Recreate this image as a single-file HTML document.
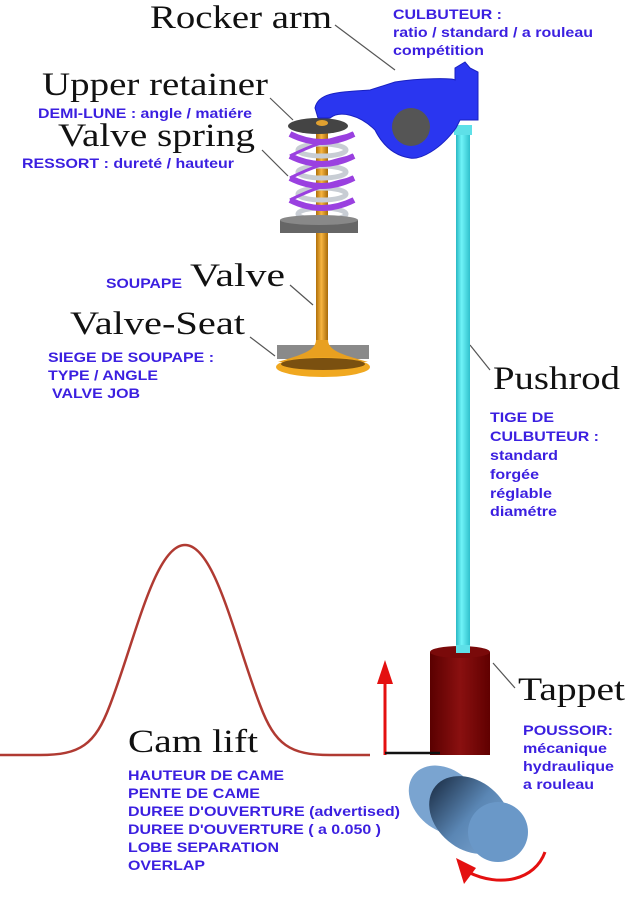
<!DOCTYPE html>
<html><head><meta charset="utf-8"><style>
html,body{margin:0;padding:0;background:#fff;}
svg{display:block}
.s{font-family:"Liberation Serif",serif;fill:#111;font-size:33px;}
.b{font-family:"Liberation Sans",sans-serif;font-weight:bold;font-size:14px;fill:#3b1fe0;}
</style></head><body>
<svg width="626" height="900" viewBox="0 0 626 900" xmlns="http://www.w3.org/2000/svg">
<defs>
<linearGradient id="cy" x1="0" x2="1"><stop offset="0" stop-color="#2ab8c4"/><stop offset=".4" stop-color="#6ff4f8"/><stop offset="1" stop-color="#30c0cc"/></linearGradient>
<linearGradient id="or" x1="0" x2="1"><stop offset="0" stop-color="#b0700a"/><stop offset=".45" stop-color="#f7b540"/><stop offset="1" stop-color="#a86a08"/></linearGradient>
<linearGradient id="tr" x1="0" x2="1"><stop offset="0" stop-color="#5a0000"/><stop offset=".5" stop-color="#8a1010"/><stop offset="1" stop-color="#600000"/></linearGradient>
<linearGradient id="cm" x1="0" x2="1"><stop offset="0" stop-color="#243a55"/><stop offset=".5" stop-color="#5a86b4"/><stop offset="1" stop-color="#7aa4d0"/></linearGradient>
</defs>

<path d="M0,755 L40,755 C80,755 95,745 110,705 C135,640 155,545 185,545 C215,545 235,640 260,705 C275,745 290,755 330,755 L370,755" fill="none" stroke="#b03a32" stroke-width="2.5"/>

<g stroke="#555" stroke-width="1.2" fill="none">
<line x1="335" y1="25" x2="395" y2="70"/>
<line x1="270" y1="98" x2="293" y2="120"/>
<line x1="262" y1="150" x2="288" y2="176"/>
<line x1="290" y1="285" x2="313" y2="305"/>
<line x1="250" y1="337" x2="275" y2="356"/>
<line x1="470" y1="345" x2="490" y2="370"/>
<line x1="493" y1="663" x2="515" y2="688"/>
</g>

<rect x="456" y="125" width="14" height="532" fill="url(#cy)"/>
<rect x="454" y="125" width="18" height="10" fill="#5ee0e8"/>

<rect x="316" y="120" width="12" height="230" fill="url(#or)"/>
<rect x="277" y="345" width="92" height="14" fill="#8a8a8a"/>
<path d="M316,340 C316,352 296,356 278,362 L368,362 C348,356 328,352 328,340Z" fill="#e8a020"/>
<ellipse cx="323" cy="367" rx="47" ry="10" fill="#f0a820"/>
<ellipse cx="323" cy="364" rx="42" ry="6" fill="#7a5010"/>

<!-- springs -->
<g fill="none">
<g stroke="#c8cdd4" stroke-width="5">
<ellipse cx="322" cy="150" rx="24" ry="6"/><ellipse cx="322" cy="172" rx="24" ry="6"/><ellipse cx="322" cy="194" rx="24" ry="6"/><ellipse cx="322" cy="214" rx="24" ry="6"/>
</g>
<g stroke="#9a40e0" stroke-width="6">
<path d="M290,134 Q322,150 354,134"/><path d="M290,156 Q322,172 354,156"/><path d="M290,178 Q322,194 354,178"/><path d="M290,200 Q322,216 354,200"/>
<path d="M354,134 Q322,140 290,156" stroke-width="3"/><path d="M354,156 Q322,162 290,178" stroke-width="3"/><path d="M354,178 Q322,184 290,200" stroke-width="3"/>
</g>
</g>
<ellipse cx="318" cy="126" rx="30" ry="8" fill="#444"/>
<ellipse cx="322" cy="123" rx="6" ry="3" fill="#e0a030"/>
<rect x="280" y="220" width="78" height="13" fill="#666"/>
<ellipse cx="319" cy="220" rx="39" ry="5" fill="#888"/>

<path d="M315,108 C318,92 340,92 370,90 L395,82 C420,78 452,78 455,80 L455,68 L465,62 L470,68 L478,72 L478,120 L460,120 L456,128 C440,150 420,160 410,158 C390,155 380,140 375,130 C360,115 340,110 330,118 L318,118 Z" fill="#2a36f0" stroke="#1820c0" stroke-width="1"/>
<circle cx="411" cy="127" r="19" fill="#555"/>

<rect x="430" y="652" width="60" height="103" fill="url(#tr)"/>
<ellipse cx="460" cy="652" rx="30" ry="6" fill="#7a0a0a"/>
<rect x="456" y="645" width="14" height="8" fill="#5ee0e8"/>

<ellipse cx="445" cy="800" rx="40" ry="30" transform="rotate(40 445 800)" fill="#7aa4d0"/>
<ellipse cx="470" cy="815" rx="45" ry="34" transform="rotate(40 470 815)" fill="url(#cm)"/>
<circle cx="498" cy="832" r="30" fill="#6a98c8"/>

<line x1="385" y1="755" x2="385" y2="680" stroke="#e41010" stroke-width="3"/>
<path d="M377,684 L385,660 L393,684Z" fill="#e41010"/>
<line x1="385" y1="753" x2="440" y2="753" stroke="#111" stroke-width="2.5"/>
<path d="M545,852 C535,880 500,888 468,872" fill="none" stroke="#e41010" stroke-width="3"/>
<path d="M456,858 L476,868 L464,884 Z" fill="#e41010"/>

<g lengthAdjust="spacingAndGlyphs">
<text class="s" x="150" y="28" textLength="182" lengthAdjust="spacingAndGlyphs">Rocker arm</text>
<text class="s" x="42" y="95" textLength="226" lengthAdjust="spacingAndGlyphs">Upper retainer</text>
<text class="s" x="58" y="146" textLength="197" lengthAdjust="spacingAndGlyphs">Valve spring</text>
<text class="s" x="190" y="286" textLength="95" lengthAdjust="spacingAndGlyphs">Valve</text>
<text class="s" x="70" y="334" textLength="175" lengthAdjust="spacingAndGlyphs">Valve-Seat</text>
<text class="s" x="493" y="389" textLength="127" lengthAdjust="spacingAndGlyphs">Pushrod</text>
<text class="s" x="518" y="700" textLength="107" lengthAdjust="spacingAndGlyphs">Tappet</text>
<text class="s" x="128" y="752" textLength="130" lengthAdjust="spacingAndGlyphs">Cam lift</text>
</g>

<text class="b" x="393" y="19" textLength="109" lengthAdjust="spacingAndGlyphs">CULBUTEUR :</text>
<text class="b" x="393" y="37" textLength="200" lengthAdjust="spacingAndGlyphs">ratio / standard / a rouleau</text>
<text class="b" x="393" y="55" textLength="91" lengthAdjust="spacingAndGlyphs">compétition</text>
<text class="b" x="38" y="118" textLength="214" lengthAdjust="spacingAndGlyphs">DEMI-LUNE : angle / matiére</text>
<text class="b" x="22" y="168" textLength="212" lengthAdjust="spacingAndGlyphs">RESSORT : dureté / hauteur</text>
<text class="b" x="106" y="288" textLength="76" lengthAdjust="spacingAndGlyphs">SOUPAPE</text>
<text class="b" x="48" y="362" textLength="166" lengthAdjust="spacingAndGlyphs">SIEGE DE SOUPAPE :</text>
<text class="b" x="48" y="380" textLength="110" lengthAdjust="spacingAndGlyphs">TYPE / ANGLE</text>
<text class="b" x="52" y="398" textLength="88" lengthAdjust="spacingAndGlyphs">VALVE JOB</text>
<text class="b" x="490" y="422" textLength="64" lengthAdjust="spacingAndGlyphs">TIGE DE</text>
<text class="b" x="490" y="441" textLength="109" lengthAdjust="spacingAndGlyphs">CULBUTEUR :</text>
<text class="b" x="490" y="460" textLength="68" lengthAdjust="spacingAndGlyphs">standard</text>
<text class="b" x="490" y="479" textLength="49" lengthAdjust="spacingAndGlyphs">forgée</text>
<text class="b" x="490" y="498" textLength="62" lengthAdjust="spacingAndGlyphs">réglable</text>
<text class="b" x="490" y="516" textLength="67" lengthAdjust="spacingAndGlyphs">diamétre</text>
<text class="b" x="523" y="735" textLength="90" lengthAdjust="spacingAndGlyphs">POUSSOIR:</text>
<text class="b" x="523" y="753" textLength="84" lengthAdjust="spacingAndGlyphs">mécanique</text>
<text class="b" x="523" y="771" textLength="91" lengthAdjust="spacingAndGlyphs">hydraulique</text>
<text class="b" x="523" y="789" textLength="71" lengthAdjust="spacingAndGlyphs">a rouleau</text>
<text class="b" x="128" y="780" textLength="156" lengthAdjust="spacingAndGlyphs">HAUTEUR DE CAME</text>
<text class="b" x="128" y="798" textLength="132" lengthAdjust="spacingAndGlyphs">PENTE DE CAME</text>
<text class="b" x="128" y="816" textLength="272" lengthAdjust="spacingAndGlyphs">DUREE D'OUVERTURE (advertised)</text>
<text class="b" x="128" y="834" textLength="253" lengthAdjust="spacingAndGlyphs">DUREE D'OUVERTURE ( a 0.050 )</text>
<text class="b" x="128" y="852" textLength="151" lengthAdjust="spacingAndGlyphs">LOBE SEPARATION</text>
<text class="b" x="128" y="870" textLength="77" lengthAdjust="spacingAndGlyphs">OVERLAP</text>
</svg>
</body></html>
